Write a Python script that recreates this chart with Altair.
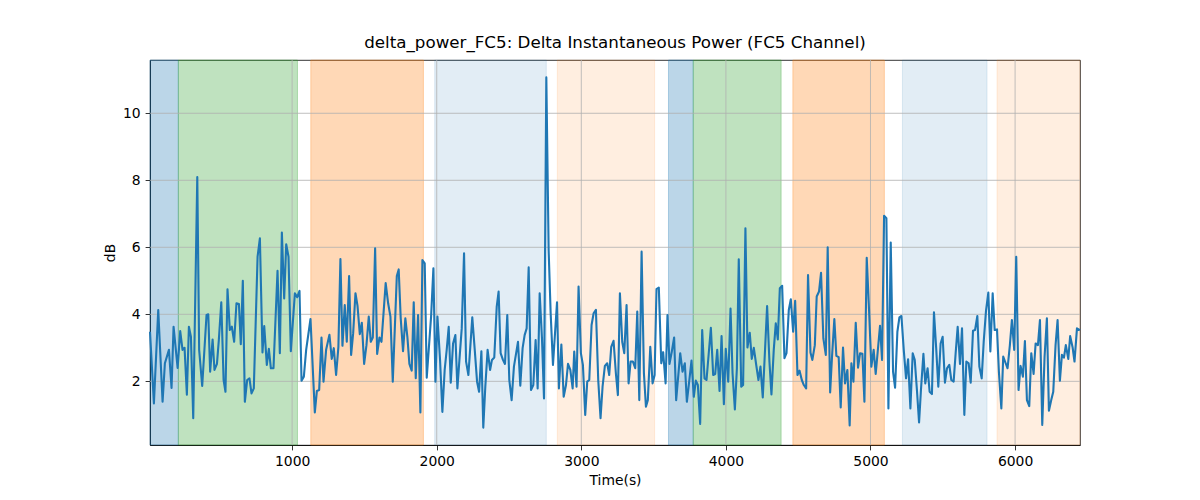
import altair as alt
import pandas as pd

# Trace: time in seconds, delta power in dB
time_s = [
    17, 44, 74, 104, 120, 148, 166, 180, 208, 226,
    242, 256, 272, 286, 300, 316, 344, 357, 378, 408,
    420, 433, 450, 463, 480, 493, 510, 526, 539, 553,
    569, 583, 599, 615, 632, 645, 659, 673, 689, 705,
    719, 735, 761, 777, 795, 807, 825, 839, 853, 871,
    899, 915, 929, 945, 959, 975, 991, 1019, 1035, 1051,
    1065, 1081, 1097, 1127, 1157, 1171, 1187, 1203, 1217, 1235,
    1258, 1274, 1288, 1304, 1320, 1334, 1348, 1364, 1378, 1394,
    1408, 1422, 1438, 1452, 1468, 1482, 1498, 1514, 1530, 1544,
    1558, 1574, 1588, 1604, 1618, 1647, 1664, 1680, 1696,
    1724, 1737, 1751, 1767, 1783, 1797, 1811, 1827, 1841, 1855,
    1871, 1887, 1901, 1917, 1931, 1961, 1977, 1991, 2005, 2023,
    2039, 2055, 2069, 2083, 2097, 2113, 2129, 2143, 2157, 2173,
    2189, 2203, 2219, 2246, 2263, 2279, 2293, 2309, 2322, 2336,
    2352, 2369, 2382, 2398, 2415, 2428, 2442, 2458, 2472, 2488,
    2502, 2518, 2534,
    2562, 2578, 2594, 2608, 2622, 2636, 2652, 2668, 2684, 2698,
    2712, 2728, 2742, 2758, 2774, 2788, 2804, 2832, 2845, 2862,
    2878, 2894, 2908, 2924, 2940, 2951, 2967, 2981, 2997, 3011,
    3027, 3041, 3055, 3071, 3085, 3101, 3117, 3133, 3147, 3163,
    3179, 3193, 3207, 3223, 3239, 3253, 3267, 3283, 3297, 3313,
    3327, 3341, 3357,
    3373, 3387, 3401, 3417, 3433, 3447, 3460, 3477, 3493, 3507,
    3520, 3536, 3553, 3566, 3583, 3596, 3610, 3626, 3642, 3656,
    3684, 3700, 3716, 3730, 3746, 3762, 3778, 3792, 3806, 3822,
    3836, 3852, 3866, 3896, 3912, 3926, 3940, 3956, 3970, 3986,
    3999, 4016, 4032, 4046, 4062, 4076, 4089, 4106, 4119, 4135,
    4149, 4165, 4179, 4193,
    4209, 4225, 4239, 4255, 4285, 4301, 4315, 4331, 4345, 4359,
    4373, 4389, 4405, 4419, 4435, 4449, 4465, 4479, 4495, 4509,
    4525, 4539, 4555, 4568, 4585, 4598, 4615, 4628, 4644, 4658,
    4674, 4691, 4704, 4721, 4734, 4750, 4764, 4780, 4794, 4810,
    4824, 4840, 4856, 4868, 4882, 4898, 4914, 4928, 4944, 4958,
    4974, 4990, 5006, 5022,
    5036, 5050, 5066, 5080, 5094, 5110, 5124, 5140, 5156, 5170,
    5186, 5200, 5214, 5230, 5246, 5260, 5276, 5292, 5306, 5322,
    5336, 5349, 5366, 5379, 5395, 5409, 5425, 5439, 5455, 5469,
    5485, 5499, 5515, 5529, 5545, 5559, 5575, 5589, 5603, 5619,
    5633, 5649, 5663, 5679, 5693, 5709, 5723, 5739, 5753, 5769,
    5783, 5799, 5815, 5829, 5845,
    5859, 5875, 5888, 5905, 5918, 5935, 5948, 5964, 5978, 5994,
    6008, 6024, 6038, 6054, 6068, 6082, 6098, 6112, 6128, 6142,
    6158, 6172, 6188, 6204, 6220, 6234, 6250, 6264, 6280, 6294,
    6310, 6324, 6338, 6351, 6368, 6381, 6398, 6411, 6428, 6449,
]
delta_db = [
    3.48, 1.34, 4.13, 1.39, 2.54, 2.94, 1.8, 3.63, 2.4, 3.5,
    2.94, 3.0, 1.6, 3.63, 3.33, 0.9, 8.1, 2.94, 1.86, 3.98,
    4.0, 2.29, 3.25, 2.34, 2.52, 3.23, 4.36, 2.04, 1.69, 4.75,
    3.53, 3.63, 3.18, 4.33, 4.31, 3.11, 5.0, 1.39, 2.04, 2.09,
    1.64, 1.79, 5.72, 6.27, 2.86, 3.65, 2.49, 2.97, 2.39, 2.39,
    5.3, 2.84, 6.44, 4.47, 6.09, 5.72, 2.9, 4.63, 4.51, 4.7,
    2.02, 2.14, 2.94, 3.86, 1.07, 1.71, 1.74, 3.31, 1.99, 2.94,
    3.39, 2.67, 2.99, 2.19, 3.03, 5.65, 3.06, 4.28, 3.18, 5.14,
    2.79, 3.43, 4.63, 4.26, 3.41, 3.75, 2.52, 3.08, 3.93, 3.18,
    3.31, 5.97, 2.82, 3.31, 3.18, 4.93, 4.33, 3.93, 1.99,
    5.14, 5.34, 3.88, 2.9, 3.88, 3.33, 2.52, 2.32, 4.36, 2.09,
    3.98, 1.07, 5.62, 5.52, 2.11, 3.93, 5.37, 1.99, 3.93, 2.64,
    1.09, 2.34, 2.94, 3.63, 1.96, 3.13, 3.38, 1.79, 2.64, 3.58,
    5.82, 2.59, 2.19, 3.91, 2.94, 1.99, 1.69, 2.9, 0.62, 1.84,
    2.94, 2.34, 2.64, 2.71, 4.23, 4.68, 2.84, 2.64, 2.52, 3.98,
    2.04, 1.44, 2.44,
    3.18, 1.87, 2.99, 3.38, 3.58, 5.4, 1.74, 1.89, 3.23, 1.79,
    4.63, 3.28, 1.49, 11.07, 5.92, 4.03, 2.49, 4.36, 1.79, 3.1,
    1.54, 1.89, 2.52, 2.34, 1.79, 2.89, 1.84, 4.83, 2.84, 2.49,
    1.0, 1.99, 2.04, 3.68, 4.03, 4.13, 2.04, 0.9, 1.84, 2.46,
    2.54, 2.19, 3.03, 3.21, 2.24, 1.59, 4.63, 3.18, 2.84, 4.28,
    1.94, 2.59, 2.59,
    2.39, 4.08, 1.44, 5.87, 2.24, 1.24, 1.44, 3.03, 1.94, 2.19,
    4.75, 4.8, 2.54, 2.87, 1.94, 3.98, 2.52, 2.89, 3.31, 1.44,
    2.84, 2.29, 2.54, 1.39, 1.99, 2.62, 1.54, 2.02, 1.89, 0.73,
    3.53, 2.09, 2.04, 3.6, 2.19, 2.22, 2.94, 1.71, 3.35, 1.32,
    2.97, 1.99, 4.17, 2.24, 1.16, 2.39, 5.64, 1.84, 1.89, 6.57,
    3.01, 3.45, 2.67, 3.0,
    2.51, 2.04, 2.44, 1.52, 4.25, 2.59, 1.61, 2.94, 3.73, 3.25,
    4.78, 4.85, 2.69, 2.84, 4.13, 4.45, 3.48, 4.4, 2.19, 2.32,
    2.04, 1.89, 1.79, 5.17, 2.86, 2.64, 3.08, 4.53, 4.68, 5.24,
    3.28, 2.79, 6.0, 1.67, 2.74, 3.86, 2.76, 2.72, 1.22, 3.01,
    1.94, 2.34, 0.68, 2.54, 1.99, 3.75, 2.41, 2.84, 2.82, 1.39,
    5.69, 4.13, 2.44, 2.94,
    2.22, 2.89, 3.66, 2.64, 6.94, 6.87, 1.19, 6.14, 2.29, 1.81,
    3.48, 3.91, 3.95, 2.94, 2.09, 2.66, 1.19, 2.84, 2.64, 1.69,
    0.77, 1.74, 2.82, 1.94, 2.39, 1.69, 1.62, 4.06, 2.94, 1.84,
    3.13, 3.33, 1.96, 2.39, 2.49, 2.04, 1.99, 2.84, 3.63, 2.52,
    3.58, 1.0, 2.59, 2.54, 1.96, 3.51, 3.53, 3.95, 2.44, 2.09,
    3.18, 4.11, 4.65, 2.89, 4.63,
    3.53, 3.55, 2.29, 1.19, 2.74, 2.54, 2.39, 3.08, 3.83, 2.94,
    5.72, 1.74, 2.46, 2.14, 3.2, 1.44, 1.26, 2.84, 2.22, 3.13,
    3.08, 3.83, 0.7, 2.74, 3.88, 1.12, 1.44, 1.69, 3.08, 3.83,
    2.02, 2.79, 2.71, 3.08, 2.67, 3.35, 3.01, 2.59, 3.58, 3.53,
]

# Shaded stages behind the trace; "pale" stages are drawn more faintly
span_start = [17, 213, 1129, 1986, 2834, 3603, 3774, 4463, 5221, 5875]
span_end = [213, 1037, 1908, 2758, 3507, 3774, 4382, 5096, 5806, 6449]
span_hue = ["blue", "green", "orange", "blue", "orange",
            "blue", "green", "orange", "blue", "orange"]
span_pale = [False, False, False, True, True,
             False, False, False, True, True]
hue_names = ["blue", "green", "orange"]
hue_colors = ["#1f77b4", "#2ca02c", "#ff7f0e"]

x_ticks = [1000, 2000, 3000, 4000, 5000, 6000]
y_ticks = [2, 4, 6, 8, 10]
x_range = [17, 6449]
y_range = [0.1, 11.59]

FONT = "DejaVu Sans"


def make_axis(title, ticks):
    return alt.Axis(title=title, values=ticks, format="d", grid=False,
                    domainColor="black", domainWidth=0.8,
                    tickColor="black", tickWidth=0.8, tickSize=4.9,
                    labelFont=FONT, labelFontSize=13.9, labelColor="black",
                    labelPadding=4.9, labelFlush=False,
                    titleFont=FONT, titleFontSize=13.9,
                    titleFontWeight="normal", titleColor="black",
                    titlePadding=5)


def band_layer(spans, x_scale, x_axis, pale, alpha):
    """Rectangles for one group of spans, at a fixed transparency."""
    colour = alt.Scale(domain=hue_names, range=hue_colors)
    return alt.Chart(spans[spans["pale"] == pale]).mark_rect(
        strokeWidth=1, fillOpacity=alpha, strokeOpacity=alpha
    ).encode(
        x=alt.X("start:Q", scale=x_scale, axis=x_axis),
        x2="end:Q",
        fill=alt.Fill("hue:N", scale=colour, legend=None),
        stroke=alt.Stroke("hue:N", scale=colour, legend=None),
    )


def main():
    trace = pd.DataFrame({"t": time_s, "db": delta_db})
    spans = pd.DataFrame({"start": span_start, "end": span_end,
                          "hue": span_hue, "pale": span_pale})

    x_scale = alt.Scale(domain=x_range, nice=False, zero=False)
    y_scale = alt.Scale(domain=y_range, nice=False, zero=False)
    x_axis = make_axis("Time(s)", x_ticks)
    y_axis = make_axis("dB", y_ticks)

    strong = band_layer(spans, x_scale, x_axis, False, 0.3)
    faint = band_layer(spans, x_scale, x_axis, True, 0.13)

    # grid sits over the shading but under the trace, as in matplotlib
    vgrid = alt.Chart(pd.DataFrame({"v": x_ticks})).mark_rule(
        color="#b0b0b0", strokeWidth=0.8
    ).encode(x=alt.X("v:Q", scale=x_scale, axis=x_axis))
    hgrid = alt.Chart(pd.DataFrame({"v": y_ticks})).mark_rule(
        color="#b0b0b0", strokeWidth=0.8
    ).encode(y=alt.Y("v:Q", scale=y_scale, axis=y_axis))

    line = alt.Chart(trace).mark_line(
        color="#1f77b4", strokeWidth=2.1, strokeJoin="round"
    ).encode(
        x=alt.X("t:Q", scale=x_scale, axis=x_axis),
        y=alt.Y("db:Q", scale=y_scale, axis=y_axis),
    )

    chart = alt.layer(strong, faint, vgrid, hgrid, line).properties(
        width=930,
        height=385,
        padding={"left": 142, "top": 52, "right": 100, "bottom": 55},
        autosize=alt.AutoSizeParams(type="none"),
        title=alt.Title(
            "delta_power_FC5: Delta Instantaneous Power (FC5 Channel)",
            font=FONT, fontSize=16.7, fontWeight="normal", color="black",
            offset=8, anchor="middle"),
    ).configure_view(stroke="black", strokeWidth=0.8)

    chart.save("out.html", embed_options={"renderer": "svg", "actions": False})


if __name__ == "__main__":
    main()
